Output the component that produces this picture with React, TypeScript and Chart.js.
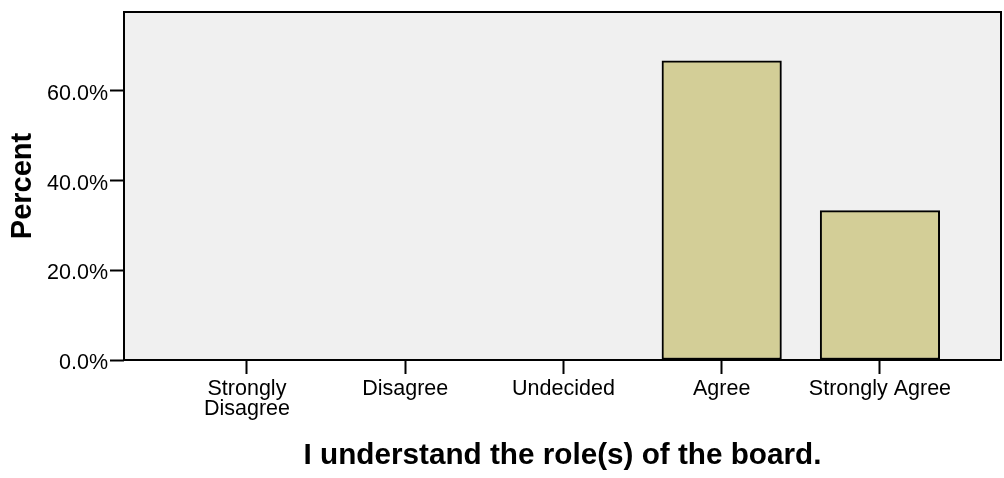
import React, { useEffect, useRef } from "react";
import { Chart, registerables } from "chart.js";

Chart.register(...registerables);

// ---- Data ----
const categories = ["Strongly Disagree", "Disagree", "Undecided", "Agree", "Strongly Agree"];
const tickLabels: (string | string[])[] = [["Strongly", "Disagree"], "Disagree", "Undecided", "Agree", "Strongly Agree"];
const percentValues = [0, 0, 0, 66.7, 33.3];
const yTickValues = [0, 20, 40, 60];
const xTitle = "I understand the role(s) of the board.";
const yTitle = "Percent";

const FONT = "'Liberation Sans', Arial, sans-serif";

export default function App() {
  const ref = useRef<HTMLCanvasElement>(null);

  useEffect(() => {
    const canvas = ref.current;
    if (!canvas) return;

    const framePlugin = {
      id: "frame",
      beforeDatasetsDraw(chart: any) {
        const { ctx, chartArea: a } = chart;
        ctx.save();
        ctx.fillStyle = "#f0f0f0";
        ctx.fillRect(a.left, a.top, a.right - a.left, a.bottom - a.top);
        ctx.restore();
      },
      afterDatasetsDraw(chart: any) {
        const { ctx, chartArea: a } = chart;
        ctx.save();
        ctx.strokeStyle = "#000";
        ctx.lineWidth = 2;
        ctx.strokeRect(a.left, a.top, a.right - a.left, a.bottom - a.top);
        ctx.restore();
      },
    };

    const chart = new Chart(canvas, {
      type: "bar",
      data: {
        datasets: [
          {
            data: percentValues.map((v, i) => ({ x: i, y: v })) as any,
            backgroundColor: "#d3ce97",
            borderColor: "#000",
            borderWidth: 2,
            borderSkipped: false,
            barThickness: 119.5,
          },
        ],
      },
      options: {
        responsive: false,
        animation: false,
        devicePixelRatio: 1,
        layout: { padding: { top: 12, right: 3, left: 0, bottom: 0 } },
        plugins: { legend: { display: false }, tooltip: { enabled: false } },
        scales: {
          x: {
            type: "linear",
            position: "bottom",
            offset: false,
            min: -0.777,
            max: 4.765,
            afterBuildTicks: (s: any) => {
              s.ticks = categories.map((_, i) => ({ value: i }));
            },
            afterFit: (s: any) => {
              s.height = 118;
              s.paddingLeft = 0;
              s.paddingRight = 0;
            },
            grid: {
              offset: false,
              drawOnChartArea: false,
              drawTicks: true,
              tickLength: 14,
              tickColor: "#000",
              tickWidth: 2,
            },
            border: { display: false },
            ticks: {
              autoSkip: false,
              maxRotation: 0,
              padding: 5,
              color: "#000",
              font: { family: FONT, size: 21.5, lineHeight: 0.93 },
              callback: (v: any) => tickLabels[Math.round(Number(v))] as any,
            },
            title: {
              display: true,
              text: xTitle,
              color: "#000",
              font: { family: FONT, size: 29.7, weight: "bold" },
              padding: { top: 0, bottom: 4 },
            },
          },
          y: {
            type: "linear",
            min: 0,
            max: 77.6,
            afterBuildTicks: (s: any) => {
              s.ticks = yTickValues.map((v) => ({ value: v }));
            },
            afterFit: (s: any) => {
              s.width = 124;
              s.paddingTop = 0;
              s.paddingBottom = 0;
            },
            grid: {
              drawOnChartArea: false,
              drawTicks: true,
              tickLength: 14,
              tickColor: "#000",
              tickWidth: 2,
            },
            border: { display: false },
            ticks: {
              padding: 2,
              labelOffset: 3,
              color: "#000",
              font: { family: FONT, size: 21.5 },
              callback: (v: any) => Number(v).toFixed(1) + "%",
            },
            title: {
              display: true,
              text: yTitle,
              color: "#000",
              font: { family: FONT, size: 29, weight: "bold" },
              padding: { top: 6, bottom: 0 },
            },
          },
        },
      },
      plugins: [framePlugin],
    });

    return () => chart.destroy();
  }, []);

  return (
    <div style={{ position: "fixed", left: 0, top: 0, width: 1004, height: 478, background: "#fff" }}>
      <canvas ref={ref} width={1004} height={478} style={{ display: "block", width: 1004, height: 478 }} />
    </div>
  );
}
